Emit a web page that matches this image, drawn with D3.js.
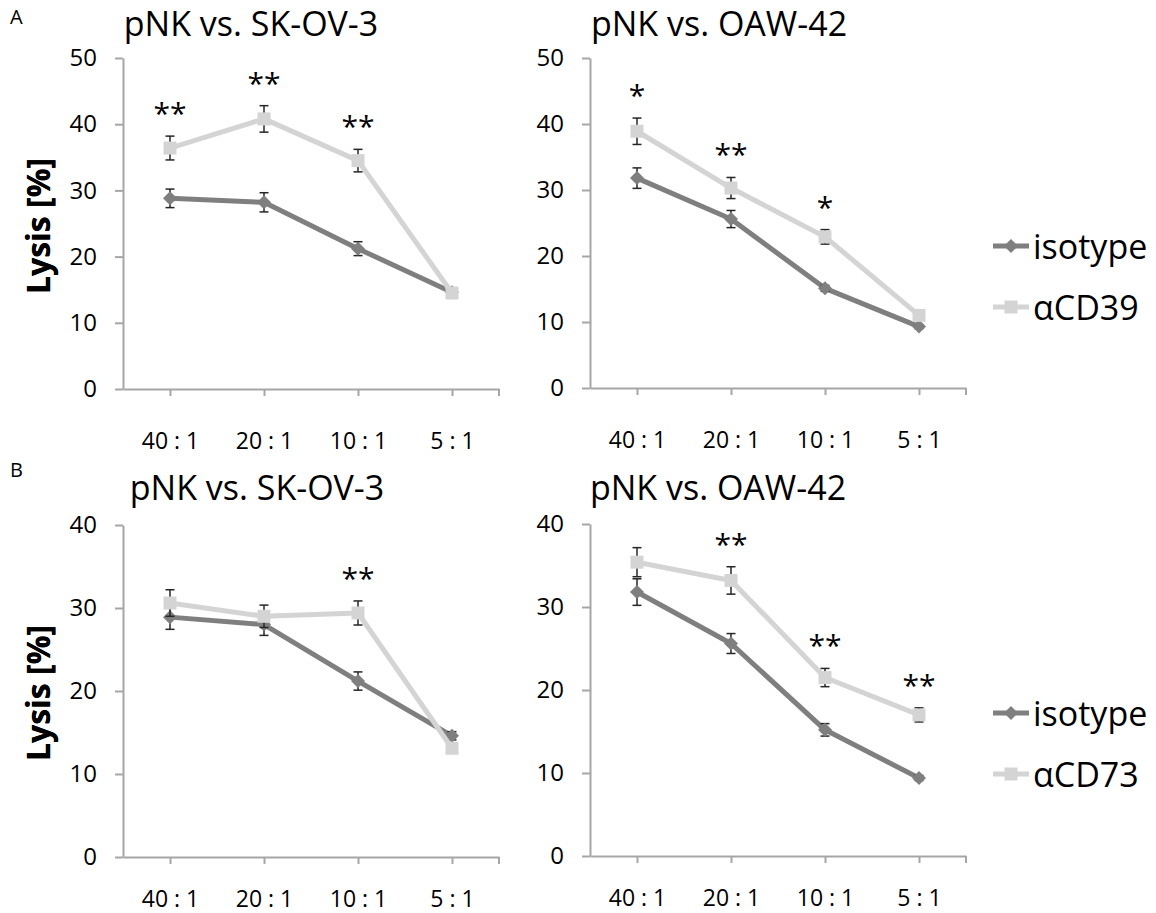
<!DOCTYPE html>
<html>
<head>
<meta charset="utf-8">
<script src="https://cdn.jsdelivr.net/npm/d3@7"></script>
<style>
  body { margin: 0; background: #fff; }
  svg { display: block; font-family: "Open Sans", sans-serif; }
</style>
</head>
<body>
<svg id="chart" width="1156" height="913"></svg>
<script>
// ---- data ----
const ratios = ["40 : 1", "20 : 1", "10 : 1", "5 : 1"];

// A: anti-CD39
const a1Iso = [28.8, 28.2, 21.2, 14.6];
const a1IsoErr = [1.4, 1.45, 1.05, 0.3];
const a1Ab = [36.4, 40.8, 34.5, 14.5];
const a1AbErr = [1.8, 2.0, 1.7, 0.3];
const a1Sig = ["**", "**", "**", ""];

const a2Iso = [31.8, 25.6, 15.1, 9.3];
const a2IsoErr = [1.55, 1.3, 0.45, 0.3];
const a2Ab = [38.9, 30.3, 22.9, 11.0];
const a2AbErr = [2.0, 1.6, 1.1, 0.4];
const a2Sig = ["*", "**", "*", ""];

// B: anti-CD73
const b1Iso = [28.9, 28.0, 21.2, 14.6];
const b1IsoErr = [1.47, 1.3, 1.1, 0.5];
const b1Ab = [30.6, 29.0, 29.4, 13.1];
const b1AbErr = [1.6, 1.35, 1.45, 0.3];
const b1Sig = ["", "", "**", ""];

const b2Iso = [31.8, 25.6, 15.2, 9.4];
const b2IsoErr = [1.6, 1.2, 0.75, 0.3];
const b2Ab = [35.4, 33.2, 21.5, 17.0];
const b2AbErr = [1.75, 1.65, 1.1, 0.85];
const b2Sig = ["", "**", "**", "**"];

const ticksA = [0, 10, 20, 30, 40, 50];
const ticksB = [0, 10, 20, 30, 40];

const darkCol = "#7f7f7f";
const lightCol = "#d4d4d4";
const axisCol = "#a6a6a6";
const errCol = "#262626";

const svg = d3.select("#chart");

function panel(o) {
  const g = svg.append("g");
  const x = d3.scalePoint().domain(ratios).range([o.x0, o.x0 + 376]).padding(0.5);
  const y = d3.scaleLinear().domain([0, d3.max(o.ticks)]).range([o.y0, o.yTop]);

  g.append("text")
    .attr("x", o.titleX).attr("y", o.titleY)
    .attr("text-anchor", "middle")
    .attr("font-size", 34)
    .text(o.title);

  // y axis
  const ya = g.append("g")
    .attr("transform", `translate(${o.x0},0)`)
    .call(d3.axisLeft(y).tickValues(o.ticks).tickSize(8).tickSizeOuter(0).tickPadding(18));
  ya.select(".domain").attr("stroke", axisCol).attr("stroke-width", 2);
  ya.selectAll(".tick line").attr("stroke", axisCol).attr("stroke-width", 2);
  ya.selectAll(".tick text").attr("font-size", 24).attr("font-family", "Open Sans").attr("fill", "#000");

  // x axis
  const xa = g.append("g")
    .attr("transform", `translate(0,${o.y0})`)
    .call(d3.axisBottom(x).tickSize(7).tickSizeOuter(0));
  xa.select(".domain").attr("stroke", axisCol).attr("stroke-width", 2);
  xa.selectAll(".tick line").attr("stroke", axisCol).attr("stroke-width", 2);
  xa.selectAll(".tick text")
    .attr("font-size", 23).attr("font-family", "Open Sans").attr("fill", "#000")
    .attr("y", o.labelOff).attr("dy", "0.35em");
  xa.append("line")
    .attr("x1", x.range()[1]).attr("x2", x.range()[1])
    .attr("y1", 0).attr("y2", 7)
    .attr("stroke", axisCol).attr("stroke-width", 2);

  // y label
  g.append("text")
    .attr("transform", `translate(37,${o.yLabelY}) rotate(-90)`)
    .attr("text-anchor", "middle")
    .attr("dominant-baseline", "central")
    .attr("font-size", 32).attr("font-weight", "bold")
    .text("Lysis [%]");

  const line = d3.line().x((d, i) => x(ratios[i])).y(d => y(d));

  const series = [
    { vals: o.iso, err: o.isoErr, col: darkCol, shape: "diamond" },
    { vals: o.ab, err: o.abErr, col: lightCol, shape: "square" }
  ];

  series.forEach(s => {
    g.append("path")
      .attr("d", line(s.vals))
      .attr("fill", "none")
      .attr("stroke", s.col)
      .attr("stroke-width", 5)
      .attr("stroke-linejoin", "round");

    const eb = g.append("g").attr("stroke", errCol).attr("stroke-width", 1.5);
    s.vals.forEach((v, i) => {
      const cx = x(ratios[i]);
      const hi = y(v + s.err[i]), lo = y(v - s.err[i]);
      eb.append("line").attr("x1", cx).attr("x2", cx).attr("y1", hi).attr("y2", lo);
      eb.append("line").attr("x1", cx - 4.5).attr("x2", cx + 4.5).attr("y1", hi).attr("y2", hi);
      eb.append("line").attr("x1", cx - 4.5).attr("x2", cx + 4.5).attr("y1", lo).attr("y2", lo);
    });

    g.append("g").selectAll("path")
      .data(s.vals)
      .join("path")
      .attr("transform", (d, i) => `translate(${x(ratios[i])},${y(d)})`)
      .attr("d", s.shape === "diamond" ? "M0,-7L7,0L0,7L-7,0Z" : "M-6.5,-6.5H6.5V6.5H-6.5Z")
      .attr("fill", s.col);
  });

  // significance stars above the treated series
  g.append("g").selectAll("text")
    .data(o.sig)
    .join("text")
    .attr("x", (d, i) => x(ratios[i]))
    .attr("y", (d, i) => y(o.ab[i] + o.abErr[i]) - 26 + 14)
    .attr("text-anchor", "middle")
    .attr("font-size", 30)
    .text(d => d);

  // legend
  if (o.legend) {
    const lg = g.append("g");
    series.forEach((s, i) => {
      const ly = o.legendY + i * 61;
      lg.append("line")
        .attr("x1", 993).attr("x2", 1029).attr("y1", ly).attr("y2", ly)
        .attr("stroke", s.col).attr("stroke-width", 5);
      lg.append("path")
        .attr("transform", `translate(1011,${ly})`)
        .attr("d", s.shape === "diamond" ? "M0,-7L7,0L0,7L-7,0Z" : "M-6.5,-6.5H6.5V6.5H-6.5Z")
        .attr("fill", s.col);
      lg.append("text")
        .attr("x", 1033).attr("y", ly)
        .attr("dominant-baseline", "central")
        .attr("font-size", 34)
        .text(o.legend[i]);
    });
  }
}

svg.append("text").attr("x", 10).attr("y", 24).attr("font-size", 20).text("A");
svg.append("text").attr("x", 10).attr("y", 477).attr("font-size", 20).text("B");

panel({ title: "pNK vs. SK-OV-3", titleX: 251, titleY: 36, x0: 123, y0: 389, yTop: 58,
  ticks: ticksA, labelOff: 52, yLabelY: 226,
  iso: a1Iso, isoErr: a1IsoErr, ab: a1Ab, abErr: a1AbErr, sig: a1Sig });
panel({ title: "pNK vs. OAW-42", titleX: 719, titleY: 36, x0: 590, y0: 388, yTop: 58,
  ticks: ticksA, labelOff: 52, yLabelY: 226,
  iso: a2Iso, isoErr: a2IsoErr, ab: a2Ab, abErr: a2AbErr, sig: a2Sig,
  legend: ["isotype", "αCD39"], legendY: 246 });
panel({ title: "pNK vs. SK-OV-3", titleX: 257, titleY: 500, x0: 123, y0: 857, yTop: 525,
  ticks: ticksB, labelOff: 42, yLabelY: 693,
  iso: b1Iso, isoErr: b1IsoErr, ab: b1Ab, abErr: b1AbErr, sig: b1Sig });
panel({ title: "pNK vs. OAW-42", titleX: 718, titleY: 500, x0: 590, y0: 856, yTop: 524,
  ticks: ticksB, labelOff: 42, yLabelY: 693,
  iso: b2Iso, isoErr: b2IsoErr, ab: b2Ab, abErr: b2AbErr, sig: b2Sig,
  legend: ["isotype", "αCD73"], legendY: 713 });
</script>
</body>
</html>
